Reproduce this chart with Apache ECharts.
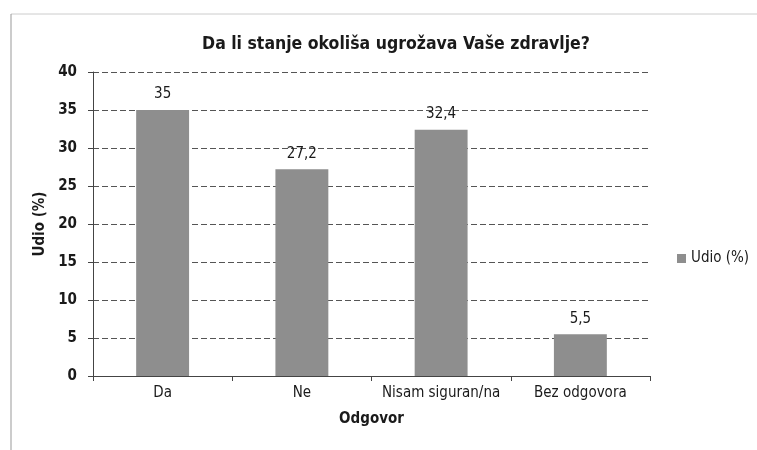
<!DOCTYPE html>
<html><head><meta charset="utf-8">
<script src="https://cdn.jsdelivr.net/npm/echarts@6/dist/echarts.min.js"></script>
<style>html,body{margin:0;padding:0;background:#fff}#c{width:757px;height:450px}</style>
</head><body><div id="c"></div>
<script>
const categories = ['Da', 'Ne', 'Nisam siguran/na', 'Bez odgovora'];
const values = [35, 27.2, 32.4, 5.5];
const labels = ['35', '27,2', '32,4', '5,5'];
const seriesName = 'Udio (%)';
const font = 'DejaVu Sans Condensed, Liberation Sans Narrow, sans-serif';
const chart = echarts.init(document.getElementById('c'));
chart.setOption({
  backgroundColor: '#fff',
  animation: false,
  title: {
    text: 'Da li stanje okoliša ugrožava Vaše zdravlje?',
    left: 391, top: 30, textAlign: 'center',
    textStyle: {fontFamily: font, fontWeight: 'bold', fontSize: 17.5, color: '#1a1a1a'}
  },
  graphic: [
    {type: 'line', shape: {x1: 11, y1: 14, x2: 757, y2: 14}, style: {stroke: '#ccc', lineWidth: 1}},
    {type: 'line', shape: {x1: 11, y1: 14, x2: 11, y2: 450}, style: {stroke: '#999', lineWidth: 1}}
  ],
  legend: {
    left: 672, top: 246, itemWidth: 9, itemHeight: 9, itemGap: 3, icon: 'rect',
    data: [seriesName],
    textStyle: {fontFamily: font, fontSize: 15, color: '#1a1a1a'}
  },
  grid: {left: 93, right: 107, top: 72, bottom: 74},
  xAxis: {
    type: 'category', data: categories,
    name: 'Odgovor', nameLocation: 'middle', nameGap: 36,
    nameTextStyle: {fontFamily: font, fontWeight: 'bold', fontSize: 15, color: '#1a1a1a'},
    axisLine: {lineStyle: {color: '#444'}},
    axisTick: {show: true, lineStyle: {color: '#444'}},
    axisLabel: {fontFamily: font, fontSize: 15, color: '#1a1a1a', margin: 10, interval: 0}
  },
  yAxis: {
    type: 'value', min: 0, max: 40, interval: 5,
    name: 'Udio (%)', nameLocation: 'middle', nameGap: 40, nameRotate: 90,
    nameTextStyle: {fontFamily: font, fontWeight: 'bold', fontSize: 15, color: '#1a1a1a'},
    axisLine: {show: true, lineStyle: {color: '#444'}},
    axisTick: {show: true, lineStyle: {color: '#444'}},
    axisLabel: {fontFamily: font, fontSize: 15, fontWeight: 'bold', color: '#1a1a1a', margin: 16},
    splitLine: {lineStyle: {color: '#555', type: [6, 3]}}
  },
  series: [{
    name: seriesName, type: 'bar', data: values, barWidth: '38%',
    itemStyle: {color: '#8e8e8e'},
    label: {
      show: true, position: 'top', distance: 8,
      formatter: p => labels[p.dataIndex],
      fontFamily: font, fontSize: 15, color: '#1a1a1a'
    }
  }]
});
</script></body></html>
